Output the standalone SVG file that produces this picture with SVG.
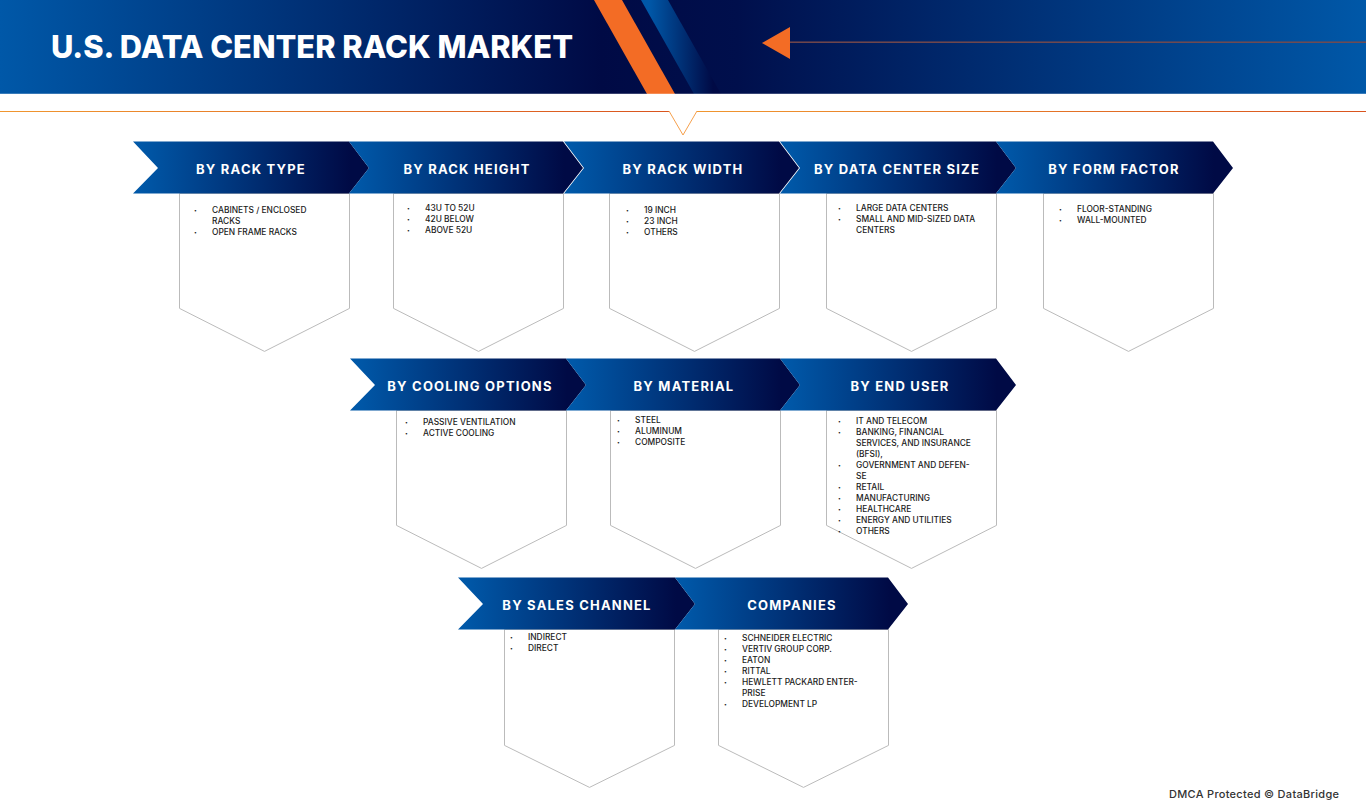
<svg xmlns="http://www.w3.org/2000/svg" width="1366" height="808" viewBox="0 0 1366 808">
<style>
.h{font-family:"Inter","Liberation Sans",sans-serif;font-weight:700;font-size:13px;letter-spacing:1.2px;fill:#fff;text-anchor:middle}
.t{font-family:"Inter","Liberation Sans",sans-serif;font-weight:500;font-size:8.4px;fill:#1a1a1a}
.d{font-family:"Inter","Liberation Sans",sans-serif;font-size:5px;fill:#1a1a1a;transform:translateY(-1.3px)}
.b{fill:#fff;stroke:#bbb;stroke-width:1;transform:translate(-.5px,.4px)}
.c{fill:url(#cg)}
</style>
<defs>
<linearGradient id="bg" gradientUnits="userSpaceOnUse" x1="0" y1="0" x2="1366" y2="0"><stop offset="0" stop-color="#0058a8"/><stop offset=".44" stop-color="#000a45"/><stop offset=".54" stop-color="#000f4c"/><stop offset="1" stop-color="#0058a8"/></linearGradient>
<linearGradient id="cg" x1="0" y1="0" x2="1" y2="0"><stop offset=".03" stop-color="#0058a8"/><stop offset=".92" stop-color="#000a45"/></linearGradient>
<linearGradient id="sg" x1="0" y1="0" x2="1" y2="0"><stop offset=".1" stop-color="#0058a8"/><stop offset=".9" stop-color="#000a45"/></linearGradient>
<linearGradient id="r1" gradientUnits="userSpaceOnUse" x1="0" y1="0" x2="669" y2="0"><stop offset="0" stop-color="#f0962f"/><stop offset="1" stop-color="#d9541e"/></linearGradient>
<linearGradient id="r2" gradientUnits="userSpaceOnUse" x1="697" y1="0" x2="1366" y2="0"><stop offset="0" stop-color="#f0962f"/><stop offset="1" stop-color="#d9541e"/></linearGradient>
</defs>
<g id="banner">
<rect x="0" y="0" width="1366" height="94" fill="url(#bg)"/>
<polygon points="594,0 622,0 675,94 647,94" fill="#f36c25"/>
<polygon points="641,0 668,0 721,94 694,94" fill="url(#sg)"/>
<rect x="0" y="93" width="1366" height="1" fill="#fff" opacity=".22"/>
<polygon points="762,43 790,27 790,59" fill="#f36c25"/>
<rect x="790" y="41.5" width="576" height="1.4" fill="#7a4b4b"/>
<text x="51" y="58" font-family="Inter,'Liberation Sans',sans-serif" font-weight="800" font-size="31" fill="#fff" textLength="522" lengthAdjust="spacingAndGlyphs">U.S. DATA CENTER RACK MARKET</text>
</g>
<g id="rule" fill="none" stroke-width="1">
<path d="M0 111.5H669" stroke="url(#r1)"/>
<path d="M697 111.5H1366" stroke="url(#r2)"/>
<path d="M669 111L683 135L697 111" stroke="#f6a04c"/>
</g>
<g id="connectors"></g>
<g id="n1"><polygon class="b" points="180,193 180,308 265,351 350,308 350,193"/><polygon class="c" points="133,141.6 349,141.6 369,168 349,193.4 133,193.4 158,168"/><text class="h" x="251" y="174">BY RACK TYPE</text>
<text class="d" x="194" y="213">•</text><text class="t" x="212" y="213">CABINETS / ENCLOSED</text><text class="t" x="212" y="224">RACKS</text><text class="d" x="194" y="235">•</text><text class="t" x="212" y="235">OPEN FRAME RACKS</text></g>
<g id="n2"><polygon class="b" points="394,193 394,308 479,351 564,308 564,193"/><polygon class="c" points="349,141.6 563,141.6 583,168 563,193.4 349,193.4 369,168"/><text class="h" x="467" y="174">BY RACK HEIGHT</text>
<text class="d" x="407" y="211">•</text><text class="t" x="425" y="211">43U TO 52U</text><text class="d" x="407" y="222">•</text><text class="t" x="425" y="222">42U BELOW</text><text class="d" x="407" y="233">•</text><text class="t" x="425" y="233">ABOVE 52U</text></g>
<g id="n3"><polygon class="b" points="610,193 610,308 695,351 780,308 780,193"/><polygon class="c" points="564,141.6 779,141.6 799,168 779,193.4 564,193.4 584,168"/><text class="h" x="683" y="174">BY RACK WIDTH</text>
<text class="d" x="626" y="213">•</text><text class="t" x="644" y="213">19 INCH</text><text class="d" x="626" y="224">•</text><text class="t" x="644" y="224">23 INCH</text><text class="d" x="626" y="235">•</text><text class="t" x="644" y="235">OTHERS</text></g>
<g id="n4"><polygon class="b" points="827,193 827,308 912,351 997,308 997,193"/><polygon class="c" points="780,141.6 996,141.6 1016,168 996,193.4 780,193.4 800,168"/><text class="h" x="897" y="174">BY DATA CENTER SIZE</text>
<text class="d" x="838" y="211">•</text><text class="t" x="856" y="211">LARGE DATA CENTERS</text><text class="d" x="838" y="222">•</text><text class="t" x="856" y="222">SMALL AND MID-SIZED DATA</text><text class="t" x="856" y="233">CENTERS</text></g>
<g id="n5"><polygon class="b" points="1044,193 1044,308 1129,351 1214,308 1214,193"/><polygon class="c" points="996,141.6 1213,141.6 1233,168 1213,193.4 996,193.4 1016,168"/><text class="h" x="1114" y="174">BY FORM FACTOR</text>
<text class="d" x="1059" y="212">•</text><text class="t" x="1077" y="212">FLOOR-STANDING</text><text class="d" x="1059" y="223">•</text><text class="t" x="1077" y="223">WALL-MOUNTED</text></g>
<g id="n6"><polygon class="b" points="397,410 397,525 482,568 567,525 567,410"/><polygon class="c" points="350,358.6 566,358.6 586,385 566,410.4 350,410.4 375,385"/><text class="h" x="470" y="391">BY COOLING OPTIONS</text>
<text class="d" x="405" y="425">•</text><text class="t" x="423" y="425">PASSIVE VENTILATION</text><text class="d" x="405" y="436">•</text><text class="t" x="423" y="436">ACTIVE COOLING</text></g>
<g id="n7"><polygon class="b" points="611,410 611,525 696,568 781,525 781,410"/><polygon class="c" points="566,358.6 780,358.6 800,385 780,410.4 566,410.4 586,385"/><text class="h" x="684" y="391">BY MATERIAL</text>
<text class="d" x="617" y="423">•</text><text class="t" x="635" y="423">STEEL</text><text class="d" x="617" y="434">•</text><text class="t" x="635" y="434">ALUMINUM</text><text class="d" x="617" y="445">•</text><text class="t" x="635" y="445">COMPOSITE</text></g>
<g id="n8"><polygon class="b" points="827,410 827,525 912,568 997,525 997,410"/><polygon class="c" points="780,358.6 996,358.6 1016,385 996,410.4 780,410.4 800,385"/><text class="h" x="900" y="391">BY END USER</text>
<text class="d" x="838" y="424">•</text><text class="t" x="856" y="424">IT AND TELECOM</text><text class="d" x="838" y="435">•</text><text class="t" x="856" y="435">BANKING, FINANCIAL</text><text class="t" x="856" y="446">SERVICES, AND INSURANCE</text><text class="t" x="856" y="457">(BFSI),</text><text class="d" x="838" y="468">•</text><text class="t" x="856" y="468">GOVERNMENT AND DEFEN-</text><text class="t" x="856" y="479">SE</text><text class="d" x="838" y="490">•</text><text class="t" x="856" y="490">RETAIL</text><text class="d" x="838" y="501">•</text><text class="t" x="856" y="501">MANUFACTURING</text><text class="d" x="838" y="512">•</text><text class="t" x="856" y="512">HEALTHCARE</text><text class="d" x="838" y="523">•</text><text class="t" x="856" y="523">ENERGY AND UTILITIES</text><text class="d" x="838" y="534">•</text><text class="t" x="856" y="534">OTHERS</text></g>
<g id="n9"><polygon class="b" points="505,629 505,745 590,787 675,745 675,629"/><polygon class="c" points="458,577.6 675,577.6 695,604 675,629.4 458,629.4 483,604"/><text class="h" x="577" y="610">BY SALES CHANNEL</text>
<text class="d" x="510" y="640">•</text><text class="t" x="528" y="640">INDIRECT</text><text class="d" x="510" y="651">•</text><text class="t" x="528" y="651">DIRECT</text></g>
<g id="n10"><polygon class="b" points="719,629 719,745 804,787 889,745 889,629"/><polygon class="c" points="675,577.6 888,577.6 908,604 888,629.4 675,629.4 695,604"/><text class="h" x="792" y="610">COMPANIES</text>
<text class="d" x="724" y="641">•</text><text class="t" x="742" y="641">SCHNEIDER ELECTRIC</text><text class="d" x="724" y="652">•</text><text class="t" x="742" y="652">VERTIV GROUP CORP.</text><text class="d" x="724" y="663">•</text><text class="t" x="742" y="663">EATON</text><text class="d" x="724" y="674">•</text><text class="t" x="742" y="674">RITTAL</text><text class="d" x="724" y="685">•</text><text class="t" x="742" y="685">HEWLETT PACKARD ENTER-</text><text class="t" x="742" y="696">PRISE</text><text class="d" x="724" y="707">•</text><text class="t" x="742" y="707">DEVELOPMENT LP</text></g>
<text x="1169" y="798" font-family="Inter,'Liberation Sans',sans-serif" font-weight="500" font-size="11" fill="#333" textLength="170">DMCA Protected © DataBridge</text>
</svg>
